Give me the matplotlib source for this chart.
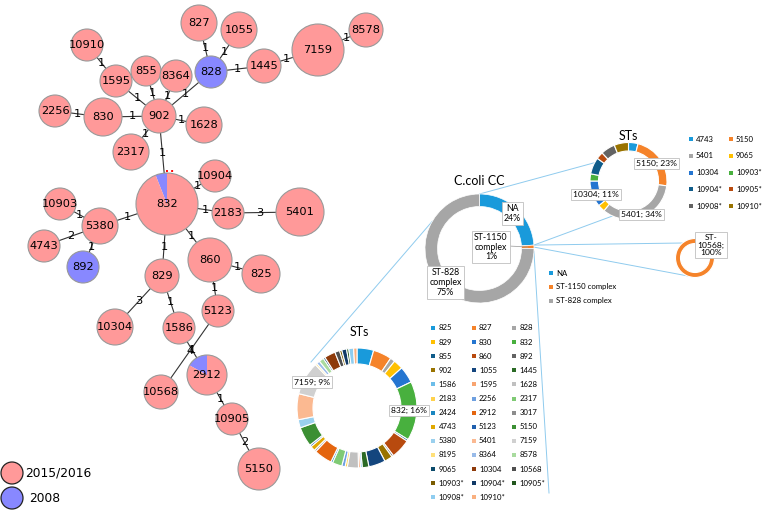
import numpy as np
import matplotlib
matplotlib.use('Agg')
import matplotlib.pyplot as plt
from matplotlib.patches import Circle

# ---------------- data ----------------
# minimum spanning tree of sequence types (share of isolates from 2008)
share_2008 = {
    '827': 0, '1055': 0, '7159': 0, '8578': 0, '1445': 0, '828': 1,
    '10910': 0, '1595': 0, '855': 0, '8364': 0, '902': 0, '830': 0,
    '2256': 0, '1628': 0, '2317': 0, '832': 0.06, '10904': 0, '2183': 0,
    '5401': 0, '10903': 0, '5380': 0, '4743': 0, '892': 1, '829': 0,
    '860': 0, '825': 0, '5123': 0, '10304': 0, '1586': 0, '2912': 0.17,
    '10568': 0, '10905': 0, '5150': 0,
}
edges = [
    ('827', '828', 1), ('1055', '828', 1), ('828', '1445', 1), ('1445', '7159', 1),
    ('7159', '8578', 1), ('10910', '1595', 1), ('1595', '902', 1), ('855', '902', 1),
    ('8364', '902', 1), ('828', '902', 1), ('2256', '830', 1), ('830', '902', 1),
    ('902', '1628', 1), ('902', '2317', 1), ('902', '832', 1), ('832', '10904', 1),
    ('832', '2183', 1), ('2183', '5401', 3), ('832', '5380', 1), ('5380', '10903', 1),
    ('5380', '4743', 2), ('5380', '892', 1), ('832', '829', 1), ('832', '860', 1),
    ('860', '825', 1), ('860', '5123', 1), ('829', '10304', 3), ('829', '1586', 1),
    ('5123', '10568', 4), ('1586', '2912', 1), ('2912', '10905', 1), ('10905', '5150', 2),
]
years = ['2015/2016', '2008']

cc_labels = ['NA', 'ST-1150 complex', 'ST-828 complex']
cc_values = [24, 1, 75]

na_sts = ['4743', '5150', '5401', '9065', '10304', '10903*', '10904*', '10905*', '10908*', '10910*']
na_values = [4, 23, 34, 3, 11, 3, 7, 3, 6, 6]

st1150_sts = ['ST-10568']
st1150_values = [100]

cc828_sts = ['825', '827', '828', '829', '830', '832', '855', '860', '892', '902',
             '1055', '1445', '1586', '1595', '1628', '2183', '2256', '2317', '2424',
             '2912', '3017', '4743', '5123', '5150', '5380', '5401', '7159', '8195',
             '8364', '8578', '9065', '10304', '10568', '10903*', '10904*', '10905*',
             '10908*', '10910*']
cc828_values = [4.5, 5, 1.3, 2.6, 4.5, 16, 0.5, 5.3, 0.5, 2.2,
                4.5, 1.8, 0.5, 0.5, 3, 0.6, 0.9, 2.6, 0.5,
                4.9, 0.5, 1.3, 0.5, 5.3, 2.2, 7, 9, 0.5,
                0.9, 1.3, 0.5, 3, 1.3, 0.6, 1.3, 0.6,
                1.3, 0.9]

# ---------------- layout / style ----------------
pos = {
    '827': (199, 23, 18), '1055': (239, 30, 18), '7159': (318, 50, 26), '8578': (366, 30, 17),
    '1445': (264, 66, 17), '828': (211, 72, 16), '10910': (87, 45, 16), '1595': (116, 81, 16),
    '855': (146, 71, 15), '8364': (176, 76, 16), '902': (159, 116, 17), '830': (103, 117, 19),
    '2256': (55, 111, 16), '1628': (204, 125, 18), '2317': (131, 152, 18), '832': (167, 204, 31),
    '10904': (215, 176, 16), '2183': (228, 213, 16), '5401': (300, 212, 24), '10903': (60, 204, 16),
    '5380': (100, 226, 18), '4743': (44, 246, 16), '892': (83, 267, 16), '829': (162, 276, 17),
    '860': (210, 260, 22), '825': (261, 274, 19), '5123': (218, 311, 16), '10304': (115, 327, 18),
    '1586': (179, 328, 16), '2912': (207, 375, 20), '10568': (161, 392, 17), '10905': (232, 419, 16),
    '5150': (259, 469, 21),
}
PINK, BLUE = '#FF9999', '#8888FF'

pal = ['#199ADB', '#F5832A', '#A6A6A6', '#FFC000', '#2475D0', '#48B03E',
       '#0F5C8A', '#B84A0E', '#636363', '#997300', '#14467E', '#2B6A25',
       '#6CBDE9', '#F8A470', '#C0C0C0', '#FFD24D', '#6EA0E0', '#7FCA74',
       '#1A86C0', '#E4650E', '#8C8C8C', '#E0A800', '#1F5FAD', '#3B8F33',
       '#9AD0EE', '#FBB991', '#D0D0D0', '#FFE07A', '#99BBE9', '#A9DB9F',
       '#0B4A6B', '#8E3A0A', '#4F4F4F', '#7A5C00', '#103966', '#22561D',
       '#8FCDF0', '#F9B080']
LINK = '#8FCBEE'
XL = ['Lato', 'DejaVu Sans']
box = dict(boxstyle='square,pad=0.25', fc='white', ec='#BFBFBF', lw=0.6)

fig = plt.figure(figsize=(7.69, 5.13), dpi=100)
ax = fig.add_axes([0, 0, 1, 1])


def donut(values, colors, cx, cy, r, w, lw=0.8):
    # y axis is inverted: start at 270 and go counterclockwise = top, clockwise on screen
    wedges, _ = ax.pie(values, colors=colors, startangle=270, counterclock=True,
                       center=(cx, cy), radius=r, frame=True,
                       wedgeprops=dict(width=w, edgecolor='white', linewidth=lw))
    return wedges


def mid_point(wedge, cx, cy, rr):
    a = np.deg2rad((wedge.theta1 + wedge.theta2) / 2)
    return cx + rr * np.cos(a), cy + rr * np.sin(a)


def edge_point(theta, cx, cy, rr):
    a = np.deg2rad(theta)
    return cx + rr * np.cos(a), cy + rr * np.sin(a)


# ---------- network ----------
for a, b, d in edges:
    xa, ya, ra = pos[a]
    xb, yb, rb = pos[b]
    ax.plot([xa, xb], [ya, yb], color='#333333', lw=0.8, zorder=1)
    dist = np.hypot(xb - xa, yb - ya)
    t = (ra + (dist - rb)) / 2 / dist
    ax.text(xa + (xb - xa) * t, ya + (yb - ya) * t, str(d), fontsize=8.2,
            ha='center', va='center', zorder=4)

for name, f in share_2008.items():
    x, y, r = pos[name]
    if 0 < f < 1:
        ax.pie([f, 1 - f], colors=[BLUE, PINK], startangle=270, counterclock=False,
               center=(x, y), radius=r, frame=True,
               wedgeprops=dict(edgecolor='none', zorder=2))
        ax.add_patch(Circle((x, y), r, fc='none', ec='#999999', lw=0.8, zorder=2))
    else:
        ax.add_patch(Circle((x, y), r, fc=BLUE if f == 1 else PINK,
                            ec='#999999', lw=0.8, zorder=2))
    ax.text(x, y, name, fontsize=8.2, ha='center', va='center', zorder=5)

# small red marker above the 832 node
x, y, r = pos['832']
ax.plot([x - 1, x + 9], [y - r - 2, y - r - 2], color='red', ls=':', lw=1.4, zorder=5)

for i, (yr, c) in enumerate(zip(years, [PINK, BLUE])):
    ax.add_patch(Circle((12, 473 + 25 * i), 11, fc=c, ec='#222222', lw=0.9))
    ax.text(25 + 4 * i, 473 + 25 * i, yr, fontsize=8.8, va='center')

# ---------- C.coli CC donut ----------
ccx, ccy, ccr, ccw = 479.5, 248.5, 54.5, 12.5
cc_w = donut(cc_values, pal[:3], ccx, ccy, ccr, ccw, lw=0.5)
ax.text(ccx, 181, 'C.coli CC', fontsize=9, ha='center', va='center', family=XL)
p = mid_point(cc_w[0], ccx, ccy, ccr - ccw / 2)
ax.text(p[0], p[1], 'NA\n24%', fontsize=6.3, ha='center', va='center', family=XL,
        bbox=box, linespacing=1.1)
p = mid_point(cc_w[2], ccx, ccy, ccr - ccw / 2)
ax.text(p[0], p[1], 'ST-828\ncomplex\n75%', fontsize=6.3, ha='center', va='center',
        family=XL, bbox=box, linespacing=1.1)
p = mid_point(cc_w[1], ccx, ccy, ccr - ccw / 2)
ax.plot([508, p[0]], [246, p[1]], color='#A6A6A6', lw=0.6)
ax.text(491, 247, 'ST-1150\ncomplex\n1%', fontsize=6.3, ha='center', va='center',
        family=XL, bbox=box, linespacing=1.1)

for i, (lab, c) in enumerate(zip(cc_labels, pal[:3])):
    ax.scatter(551, 273 + 14 * i, marker='s', s=8, color=c, lw=0)
    ax.text(556, 273 + 14 * i, lab, fontsize=5.6, va='center', family=XL)

# ---------- NA breakdown (STs) ----------
nx, ny, nr, nw = 628.5, 181, 38.5, 8.5
na_w = donut(na_values, pal[:6] + pal[6:10], nx, ny, nr, nw)
ax.text(nx, 136, 'STs', fontsize=9, ha='center', va='center', family=XL)
for i in [1, 2, 4]:
    p = mid_point(na_w[i], nx, ny, nr - nw / 2)
    ax.text(p[0], p[1] + 2, f'{na_sts[i]}; {na_values[i]}%', fontsize=6.1,
            ha='center', va='center', family=XL, bbox=box)
for i, (lab, c) in enumerate(zip(na_sts, pal[:10])):
    col, row = i % 2, i // 2
    ax.scatter(691 + 40 * col, 139 + 16.8 * row, marker='s', s=8, color=c, lw=0)
    ax.text(696 + 40 * col, 139 + 16.8 * row, lab, fontsize=5.6, va='center', family=XL)

# ---------- ST-1150 complex breakdown ----------
ox, oy, orr = 695, 258, 19.5
donut(st1150_values, [pal[1]], ox, oy, orr, 5)
ax.text(711, 245, 'ST-\n10568;\n100%', fontsize=6.1, ha='center', va='center',
        family=XL, bbox=box, linespacing=1.1)

# ---------- ST-828 complex breakdown ----------
bx, by, br, bw = 357, 408, 60, 16
b_w = donut(cc828_values, pal, bx, by, br, bw)
ax.text(bx + 2, 332, 'STs', fontsize=9, ha='center', va='center', family=XL)
for i in [5, 26]:
    p = mid_point(b_w[i], bx, by, br - bw / 2)
    ax.text(p[0], p[1], f'{cc828_sts[i]}; {cc828_values[i]:.0f}%', fontsize=6.1,
            ha='center', va='center', family=XL, bbox=box)
for i, (lab, c) in enumerate(zip(cc828_sts, pal)):
    col, row = i % 3, i // 3
    ax.scatter(433 + 40.5 * col, 328 + 14.1 * row, marker='s', s=8, color=c, lw=0)
    ax.text(438.5 + 40.5 * col, 328 + 14.1 * row, lab, fontsize=5.6, va='center', family=XL)

# ---------- connector lines ----------
top = edge_point(cc_w[0].theta1, ccx, ccy, ccr)
brk = edge_point(cc_w[0].theta2, ccx, ccy, ccr)
lines = [
    (top, edge_point(na_w[-1].theta1 - 40, nx, ny, nr)),
    (brk, edge_point(na_w[2].theta2 - 15, nx, ny, nr)),
    (brk, (683, 243)),
    ((brk[0], brk[1] + 2), (688, 276)),
    (edge_point(cc_w[2].theta2 - 60, ccx, ccy, ccr), (311, 362)),
    ((brk[0], brk[1] + 6), (549, 493)),
]
for (x0, y0), (x1, y1) in lines:
    ax.plot([x0, x1], [y0, y1], color=LINK, lw=0.7, zorder=0)

ax.set_xlim(0, 769)
ax.set_ylim(513, 0)
ax.set_aspect('auto')
ax.axis('off')
fig.savefig('out.png', dpi=100)
